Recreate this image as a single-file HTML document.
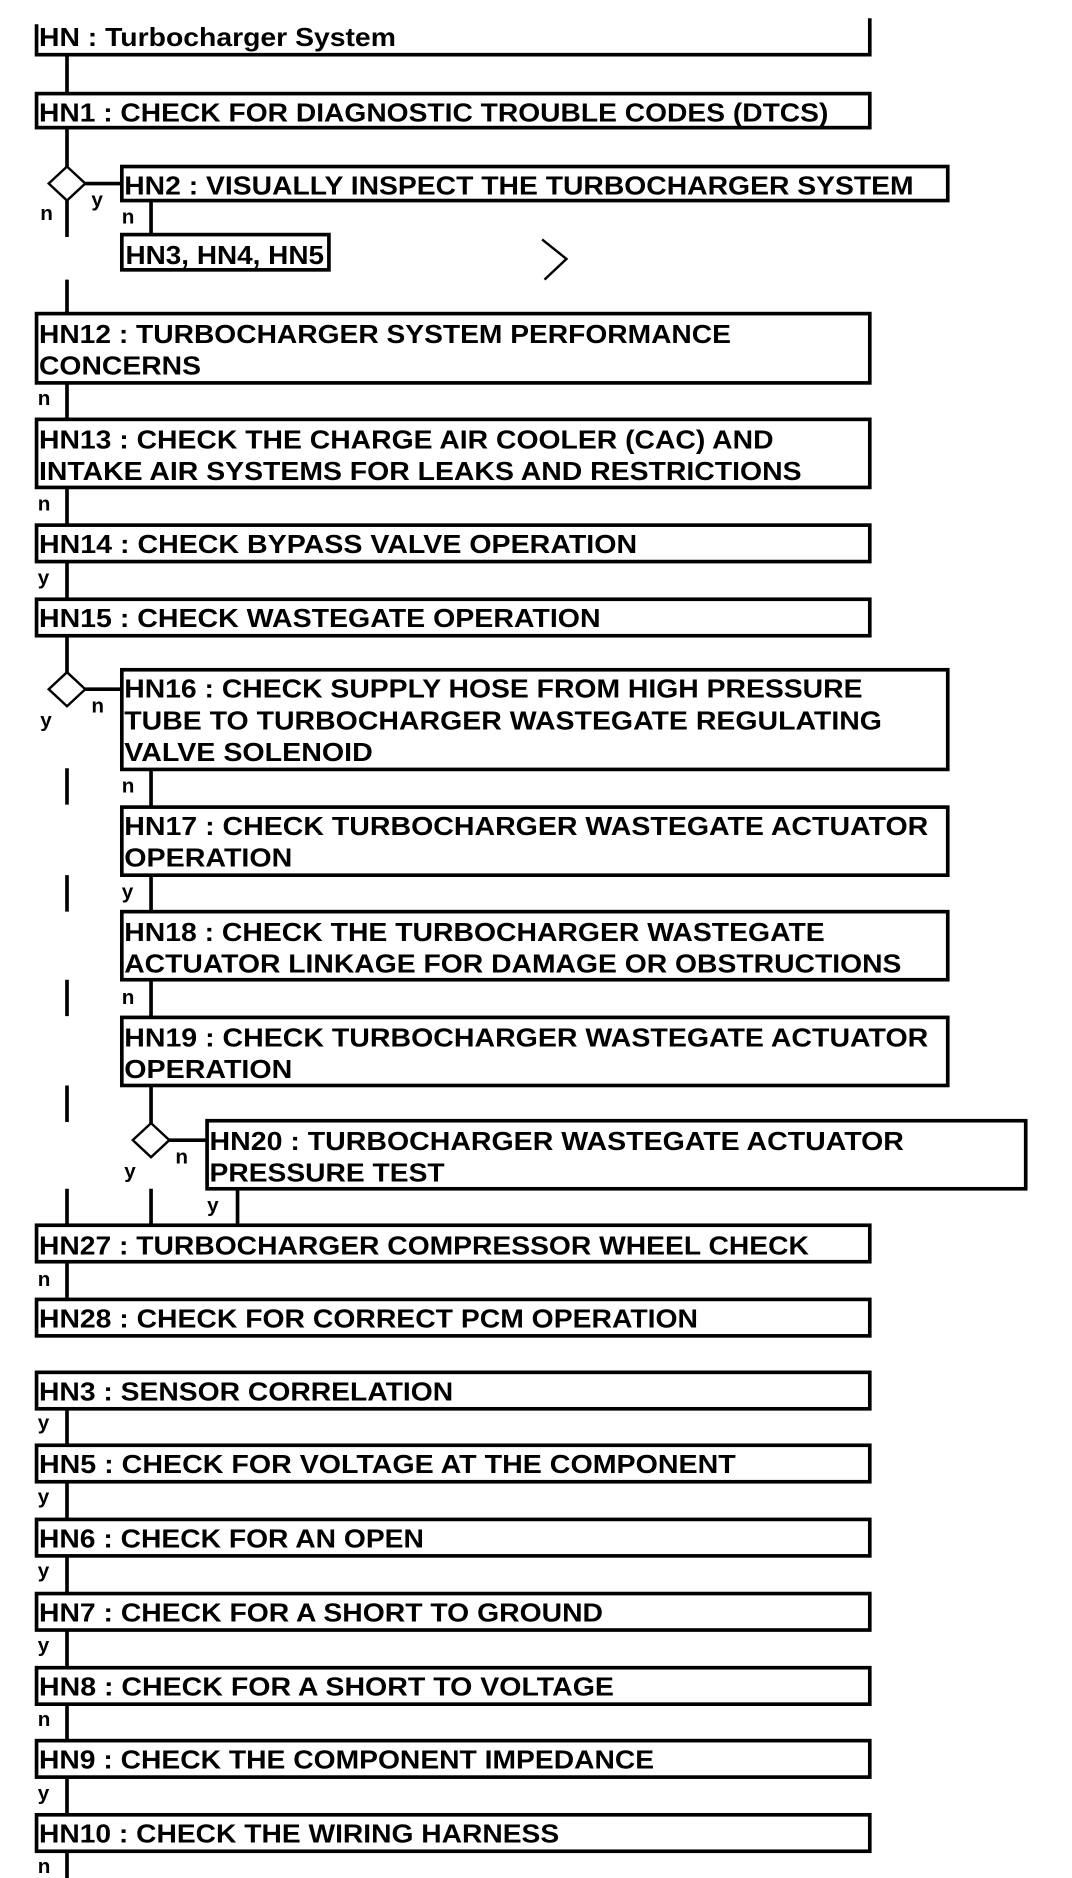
<!DOCTYPE html>
<html><head><meta charset="utf-8"><style>
html,body{margin:0;padding:0;background:#fff;}
svg{display:block;}
text{font-family:"Liberation Sans",Arial,sans-serif;font-weight:bold;font-size:21px;fill:#000;}
.l{font-size:17px;}
</style></head><body>
<svg width="1072" height="1878" viewBox="0 0 880 1545" preserveAspectRatio="none" xmlns="http://www.w3.org/2000/svg">
<g fill="none" stroke="#000" stroke-width="3">
<polyline points="30,20 30,45 714,45 714,15"/>
<rect x="30" y="77" width="684" height="28"/>
<rect x="100" y="137" width="678" height="28"/>
<rect x="100" y="193" width="170" height="29"/>
<rect x="30" y="258" width="684" height="57"/>
<rect x="30" y="345" width="684" height="56"/>
<rect x="30" y="432" width="684" height="30"/>
<rect x="30" y="493" width="684" height="30"/>
<rect x="100" y="551" width="678" height="82"/>
<rect x="100" y="664" width="678" height="56"/>
<rect x="100" y="750" width="678" height="56"/>
<rect x="100" y="837" width="678" height="56"/>
<rect x="170" y="922" width="672" height="56"/>
<rect x="30" y="1008" width="684" height="30"/>
<rect x="30" y="1069" width="684" height="30"/>
<rect x="30" y="1129" width="684" height="30"/>
<rect x="30" y="1189" width="684" height="30"/>
<rect x="30" y="1250" width="684" height="30"/>
<rect x="30" y="1311" width="684" height="30"/>
<rect x="30" y="1372" width="684" height="30"/>
<rect x="30" y="1432" width="684" height="30"/>
<rect x="30" y="1493" width="684" height="30"/>
<path d="M55 45V77M55 105V137M55 165V195M70 151H100M124 165V193M55 230V258M55 315V345M55 401V432M55 462V493M55 523V553M70 567H100
M55 632V662M55 720V750M55 806V836M55 893V923M55 978V1008M124 633V664M124 720V750M124 806V837M124 893V924M139 938H170M124 978V1008M195 978V1008
M55 1038V1069M55 1159V1189M55 1219V1250M55 1280V1311M55 1341V1372M55 1402V1432M55 1462V1493M55 1523V1552"/>
<path d="M445 197L465 213L447 230" stroke-width="2"/>
</g>
<g fill="#fff" stroke="#000" stroke-width="2">
<polygon points="55,137 70,151 55,165 40,151"/>
<polygon points="55,553 70,567 55,581 40,567"/>
<polygon points="124,924 139,938 124,952 109,938"/>
</g>
<text x="32" y="38" textLength="293" lengthAdjust="spacingAndGlyphs">HN : Turbocharger System</text>
<text x="32" y="100" textLength="648" lengthAdjust="spacingAndGlyphs">HN1 : CHECK FOR DIAGNOSTIC TROUBLE CODES (DTCS)</text>
<text x="102" y="160" textLength="648" lengthAdjust="spacingAndGlyphs">HN2 : VISUALLY INSPECT THE TURBOCHARGER SYSTEM</text>
<text x="103" y="217" textLength="163" lengthAdjust="spacingAndGlyphs">HN3, HN4, HN5</text>
<text x="32" y="282" textLength="568" lengthAdjust="spacingAndGlyphs">HN12 : TURBOCHARGER SYSTEM PERFORMANCE</text>
<text x="32" y="308" textLength="133" lengthAdjust="spacingAndGlyphs">CONCERNS</text>
<text x="32" y="369" textLength="603" lengthAdjust="spacingAndGlyphs">HN13 : CHECK THE CHARGE AIR COOLER (CAC) AND</text>
<text x="32" y="395" textLength="626" lengthAdjust="spacingAndGlyphs">INTAKE AIR SYSTEMS FOR LEAKS AND RESTRICTIONS</text>
<text x="32" y="455" textLength="491" lengthAdjust="spacingAndGlyphs">HN14 : CHECK BYPASS VALVE OPERATION</text>
<text x="32" y="516" textLength="461" lengthAdjust="spacingAndGlyphs">HN15 : CHECK WASTEGATE OPERATION</text>
<text x="102" y="574" textLength="606" lengthAdjust="spacingAndGlyphs">HN16 : CHECK SUPPLY HOSE FROM HIGH PRESSURE</text>
<text x="102" y="600" textLength="622" lengthAdjust="spacingAndGlyphs">TUBE TO TURBOCHARGER WASTEGATE REGULATING</text>
<text x="102" y="626" textLength="204" lengthAdjust="spacingAndGlyphs">VALVE SOLENOID</text>
<text x="102" y="687" textLength="660" lengthAdjust="spacingAndGlyphs">HN17 : CHECK TURBOCHARGER WASTEGATE ACTUATOR</text>
<text x="102" y="713" textLength="138" lengthAdjust="spacingAndGlyphs">OPERATION</text>
<text x="102" y="774" textLength="575" lengthAdjust="spacingAndGlyphs">HN18 : CHECK THE TURBOCHARGER WASTEGATE</text>
<text x="102" y="800" textLength="638" lengthAdjust="spacingAndGlyphs">ACTUATOR LINKAGE FOR DAMAGE OR OBSTRUCTIONS</text>
<text x="102" y="861" textLength="660" lengthAdjust="spacingAndGlyphs">HN19 : CHECK TURBOCHARGER WASTEGATE ACTUATOR</text>
<text x="102" y="887" textLength="138" lengthAdjust="spacingAndGlyphs">OPERATION</text>
<text x="172" y="946" textLength="570" lengthAdjust="spacingAndGlyphs">HN20 : TURBOCHARGER WASTEGATE ACTUATOR</text>
<text x="172" y="972" textLength="193" lengthAdjust="spacingAndGlyphs">PRESSURE TEST</text>
<text x="32" y="1032" textLength="632" lengthAdjust="spacingAndGlyphs">HN27 : TURBOCHARGER COMPRESSOR WHEEL CHECK</text>
<text x="32" y="1092" textLength="541" lengthAdjust="spacingAndGlyphs">HN28 : CHECK FOR CORRECT PCM OPERATION</text>
<text x="32" y="1152" textLength="340" lengthAdjust="spacingAndGlyphs">HN3 : SENSOR CORRELATION</text>
<text x="32" y="1212" textLength="572" lengthAdjust="spacingAndGlyphs">HN5 : CHECK FOR VOLTAGE AT THE COMPONENT</text>
<text x="32" y="1273" textLength="316" lengthAdjust="spacingAndGlyphs">HN6 : CHECK FOR AN OPEN</text>
<text x="32" y="1334" textLength="463" lengthAdjust="spacingAndGlyphs">HN7 : CHECK FOR A SHORT TO GROUND</text>
<text x="32" y="1395" textLength="472" lengthAdjust="spacingAndGlyphs">HN8 : CHECK FOR A SHORT TO VOLTAGE</text>
<text x="32" y="1455" textLength="505" lengthAdjust="spacingAndGlyphs">HN9 : CHECK THE COMPONENT IMPEDANCE</text>
<text x="32" y="1516" textLength="427" lengthAdjust="spacingAndGlyphs">HN10 : CHECK THE WIRING HARNESS</text>
<text class="l" x="75" y="170">y</text>
<text class="l" x="33" y="181">n</text>
<text class="l" x="100" y="184">n</text>
<text class="l" x="31" y="333">n</text>
<text class="l" x="31" y="420">n</text>
<text class="l" x="31" y="481">y</text>
<text class="l" x="75" y="586">n</text>
<text class="l" x="33" y="598">y</text>
<text class="l" x="100" y="652">n</text>
<text class="l" x="100" y="739">y</text>
<text class="l" x="100" y="826">n</text>
<text class="l" x="144" y="957">n</text>
<text class="l" x="102" y="969">y</text>
<text class="l" x="170" y="997">y</text>
<text class="l" x="31" y="1058">n</text>
<text class="l" x="31" y="1176">y</text>
<text class="l" x="31" y="1237">y</text>
<text class="l" x="31" y="1298">y</text>
<text class="l" x="31" y="1359">y</text>
<text class="l" x="31" y="1420">n</text>
<text class="l" x="31" y="1481">y</text>
<text class="l" x="31" y="1541">n</text>
</svg>
</body></html>
